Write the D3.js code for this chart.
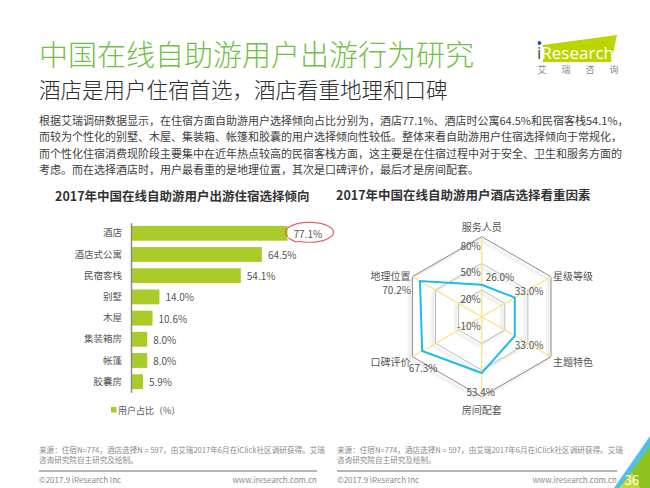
<!DOCTYPE html>
<html>
<head>
<meta charset="utf-8">
<script src="https://cdn.jsdelivr.net/npm/d3@7"></script>
<style>
  html, body { margin: 0; padding: 0; background: #fff; }
  svg { display: block; font-family: "Noto Sans CJK SC", "Noto Sans", sans-serif; }
</style>
</head>
<body>
<div id="page"></div>
<script>
// data
const categories = ["酒店", "酒店式公寓", "民宿客栈", "别墅", "木屋", "集装箱房", "帐篷", "胶囊房"];
const shares = [77.1, 64.5, 54.1, 14.0, 10.6, 8.0, 8.0, 5.9];

const factors = ["服务人员", "星级等级", "主题特色", "房间配套", "口碑评价", "地理位置"];
const factorValues = [26.0, 33.0, 33.0, 53.4, 67.3, 70.2];
const radarTicks = [-10, 20, 50, 80];

const bodyLines = [
    "根据艾瑞调研数据显示，在住宿方面自助游用户选择倾向占比分别为，酒店77.1%、酒店时公寓64.5%和民宿客栈54.1%，",
    "而较为个性化的别墅、木屋、集装箱、帐篷和胶囊的用户选择倾向性较低。整体来看自助游用户住宿选择倾向于常规化，",
    "而个性化住宿消费现阶段主要集中在近年热点较高的民宿客栈方面，这主要是在住宿过程中对于安全、卫生和服务方面的",
    "考虑。而在选择酒店时，用户最看重的是地理位置，其次是口碑评价，最后才是房间配套。"
];
const sourceLines = [
    "来源：住宿N=774，酒店选择N = 597，由艾瑞2017年6月在iClick社区调研获得。艾瑞",
    "咨询研究院自主研究及绘制。"
];

// constants
const W = 650, H = 488;
const green = "#a9cc2b";
const gray = "#555";

const svg = d3.select("#page").append("svg")
    .attr("width", W)
    .attr("height", H);

const defs = svg.append("defs");
const shadow = defs.append("filter").attr("id", "ringShadow")
    .attr("x", "-20%").attr("y", "-20%").attr("width", "140%").attr("height", "140%");
shadow.append("feDropShadow")
    .attr("dx", -2.5).attr("dy", 2.5).attr("stdDeviation", 1.2)
    .attr("flood-color", "#999").attr("flood-opacity", 0.55);

// header
svg.append("text")
    .attr("x", 39).attr("y", 66)
    .attr("font-size", 29).attr("font-weight", 300)
    .attr("fill", "#72bf46")
    .text("中国在线自助游用户出游行为研究");

svg.append("text")
    .attr("x", 39).attr("y", 98)
    .attr("font-size", 21.5).attr("font-weight", 300)
    .attr("fill", "#2e2e2e")
    .text("酒店是用户住宿首选，酒店看重地理和口碑");

svg.append("g").selectAll("text")
    .data(bodyLines)
    .enter().append("text")
    .attr("x", 39)
    .attr("y", (d, i) => 125 + i * 16.3)
    .attr("font-size", 11)
    .attr("fill", "#404040")
    .text(d => d);

// logo
const logo = svg.append("g");
logo.append("path")
    .attr("d", "M543,45 L617,35 L611,62 L543,62 Z")
    .attr("fill", "#bcd400");
logo.append("text")
    .attr("x", 537).attr("y", 59)
    .attr("font-size", 17).attr("font-family", "Open Sans, sans-serif")
    .attr("fill", "#fff")
    .call(t => t.append("tspan").attr("fill", "#4a4a4a").text("i"))
    .call(t => t.append("tspan").text("Research"));
logo.append("circle").attr("cx", 539.5).attr("cy", 43).attr("r", 1.9).attr("fill", "#1c5aa6");
logo.selectAll(".brand")
    .data(["艾", "瑞", "咨", "询"])
    .enter().append("text")
    .attr("x", (d, i) => 542 + i * 24)
    .attr("y", 73)
    .attr("text-anchor", "middle")
    .attr("font-size", 9)
    .attr("fill", "#888")
    .text(d => d);

// ---------- bar chart ----------
svg.append("text")
    .attr("x", 55).attr("y", 201)
    .attr("font-size", 12.5).attr("font-weight", "bold")
    .attr("fill", "#333")
    .text("2017年中国在线自助游用户出游住宿选择倾向");

const x = d3.scaleLinear().domain([0, 100]).range([131, 334]);
const y = d3.scaleBand().domain(categories).range([222.7, 392.3]).paddingInner(0.3).paddingOuter(0.15);

const bars = svg.append("g");
bars.selectAll("rect")
    .data(shares)
    .enter().append("rect")
    .attr("x", x(0))
    .attr("y", (d, i) => y(categories[i]))
    .attr("width", d => x(d) - x(0))
    .attr("height", y.bandwidth())
    .attr("fill", green);

bars.selectAll(".val")
    .data(shares)
    .enter().append("text")
    .attr("class", "val")
    .attr("x", d => x(d) + 6)
    .attr("y", (d, i) => y(categories[i]) + y.bandwidth() / 2)
    .attr("dominant-baseline", "central")
    .attr("font-size", 10)
    .attr("fill", gray)
    .text(d => d.toFixed(1) + "%");

const yAxis = svg.append("g")
    .attr("transform", `translate(${x(0)},0)`)
    .call(d3.axisLeft(y).tickSize(0).tickPadding(9));
yAxis.select(".domain").attr("stroke", "#8a8a8a").attr("stroke-width", 1.5);
yAxis.selectAll("text")
    .attr("font-size", 9.5)
    .attr("font-family", "Noto Sans CJK SC, sans-serif")
    .attr("fill", gray);

// red highlight round the first value
const hl = { cx: x(shares[0]) + 22, cy: y(categories[0]) + y.bandwidth() / 2 - 1 };
const loop = d3.range(0, 1.02, 0.02).map(t => {
    const a = Math.PI * (0.86 + t * 1.98);
    return [hl.cx + 24 * Math.cos(a), hl.cy + 10 * Math.sin(a) * (1 + (t > 0.9 ? 0.15 : 0))];
});
svg.append("path")
    .attr("d", d3.line().curve(d3.curveBasis)(loop))
    .attr("fill", "none")
    .attr("stroke", "#e0646f")
    .attr("stroke-width", 1.2);

// legend
svg.append("rect")
    .attr("x", 111).attr("y", 407).attr("width", 5.5).attr("height", 5.5)
    .attr("fill", green);
svg.append("text")
    .attr("x", 118).attr("y", 410)
    .attr("dominant-baseline", "central")
    .attr("font-size", 9)
    .attr("fill", gray)
    .text("用户占比（%）");

// ---------- radar chart ----------
svg.append("text")
    .attr("x", 336).attr("y", 200)
    .attr("font-size", 12.5).attr("font-weight", "bold")
    .attr("fill", "#333")
    .text("2017年中国在线自助游用户酒店选择看重因素");

const cx = 481.7, cy = 316.7;
const r = d3.scaleLinear().domain([radarTicks[0], radarTicks[radarTicks.length - 1]]).range([0, 80]);
const angle = i => i * 2 * Math.PI / factors.length;
const pt = (v, i) => [cx + r(v) * Math.sin(angle(i)), cy - r(v) * Math.cos(angle(i))];
const outer = radarTicks[radarTicks.length - 1];

const radar = svg.append("g");

radar.selectAll(".ring")
    .data(radarTicks.slice(1))
    .enter().append("polygon")
    .attr("class", "ring")
    .attr("points", t => factors.map((f, i) => pt(t, i).join(",")).join(" "))
    .attr("fill", "none")
    .attr("stroke", (t, i, n) => i === n.length - 1 ? "#8a8a8a" : "#bdbdbd")
    .attr("stroke-width", 1)
    .attr("filter", "url(#ringShadow)");

radar.selectAll(".spoke")
    .data(factors)
    .enter().append("line")
    .attr("class", "spoke")
    .attr("x1", cx).attr("y1", cy)
    .attr("x2", (d, i) => pt(outer, i)[0])
    .attr("y2", (d, i) => pt(outer, i)[1])
    .attr("stroke", "#ffe07c")
    .attr("stroke-width", 1.2);

radar.selectAll(".tick")
    .data(radarTicks)
    .enter().append("text")
    .attr("class", "tick")
    .attr("x", cx - 1)
    .attr("y", t => cy - r(t) + 8.5)
    .attr("text-anchor", "end")
    .attr("dominant-baseline", "central")
    .attr("font-size", 10)
    .attr("fill", gray)
    .text(t => t + "%");

radar.append("polygon")
    .attr("points", factorValues.map((v, i) => pt(v, i).join(",")).join(" "))
    .attr("fill", "none")
    .attr("stroke", "#1bbcf0")
    .attr("stroke-width", 2);

// axis names
const nameAnchor = i => {
    const s = Math.sin(angle(i));
    return Math.abs(s) < 0.01 ? "middle" : (s > 0 ? "start" : "end");
};
radar.selectAll(".name")
    .data(factors)
    .enter().append("text")
    .attr("class", "name")
    .attr("x", (d, i) => {
        const p = pt(outer, i);
        const a = nameAnchor(i);
        return p[0] + (a === "start" ? 2 : a === "end" ? -2 : 0);
    })
    .attr("y", (d, i) => {
        const p = pt(outer, i);
        const c = Math.cos(angle(i));
        if (Math.abs(c) > 0.99) return p[1] + (c > 0 ? -10 : 13);
        return p[1] + (c > 0 ? -1.5 : 5);
    })
    .attr("text-anchor", (d, i) => nameAnchor(i))
    .attr("dominant-baseline", "central")
    .attr("font-size", 10)
    .attr("fill", gray)
    .text(d => d);

// value labels, placed round each point
const labelPlace = [
    { anchor: "start", dx: 4, dy: -8 },
    { anchor: "start", dx: 0, dy: -7 },
    { anchor: "start", dx: 0, dy: 9 },
    { anchor: "middle", dx: -1, dy: 18 },
    { anchor: "middle", dx: 1, dy: 16 },
    { anchor: "end", dx: -9, dy: 8.5 }
];
radar.selectAll(".lab")
    .data(factorValues)
    .enter().append("text")
    .attr("class", "lab")
    .attr("x", (v, i) => pt(v, i)[0] + labelPlace[i].dx)
    .attr("y", (v, i) => pt(v, i)[1] + labelPlace[i].dy)
    .attr("text-anchor", (v, i) => labelPlace[i].anchor)
    .attr("dominant-baseline", "central")
    .attr("font-size", 10)
    .attr("fill", gray)
    .text(v => v.toFixed(1) + "%");

// ---------- footer ----------
const footers = [{ x0: 39, x1: 317 }, { x0: 337, x1: 617 }];
footers.forEach(f => {
    const g = svg.append("g");
    g.selectAll("text.src")
        .data(sourceLines)
        .enter().append("text")
        .attr("class", "src")
        .attr("x", f.x0)
        .attr("y", (d, i) => 453 + i * 10)
        .attr("font-size", 7.6)
        .attr("fill", "#8a8a8a")
        .text(d => d);
    g.append("line")
        .attr("x1", f.x0).attr("x2", f.x1)
        .attr("y1", 471).attr("y2", 471)
        .attr("stroke", "#b5b5b5").attr("stroke-width", 2);
    g.append("text")
        .attr("x", f.x0).attr("y", 483)
        .attr("font-size", 8).attr("fill", "#8a8a8a")
        .text("©2017.9 iResearch Inc");
    g.append("text")
        .attr("x", f.x1).attr("y", 483)
        .attr("text-anchor", "end")
        .attr("font-size", 8).attr("fill", "#8a8a8a")
        .text("www.iresearch.com.cn");
});

// corner
svg.append("path").attr("d", "M650,436 L650,488 L614,488 Z").attr("fill", "#4cbfef");
svg.append("path").attr("d", "M650,446 L650,488 L619,488 Z").attr("fill", "#8dc21f");
svg.append("path").attr("d", "M619,488 L632,472 L640,488 Z").attr("fill", "#c5d92a");
svg.append("text")
    .attr("x", 632).attr("y", 485)
    .attr("text-anchor", "middle")
    .attr("font-size", 13)
    .attr("fill", "#fff")
    .text("36");
</script>
</body>
</html>
